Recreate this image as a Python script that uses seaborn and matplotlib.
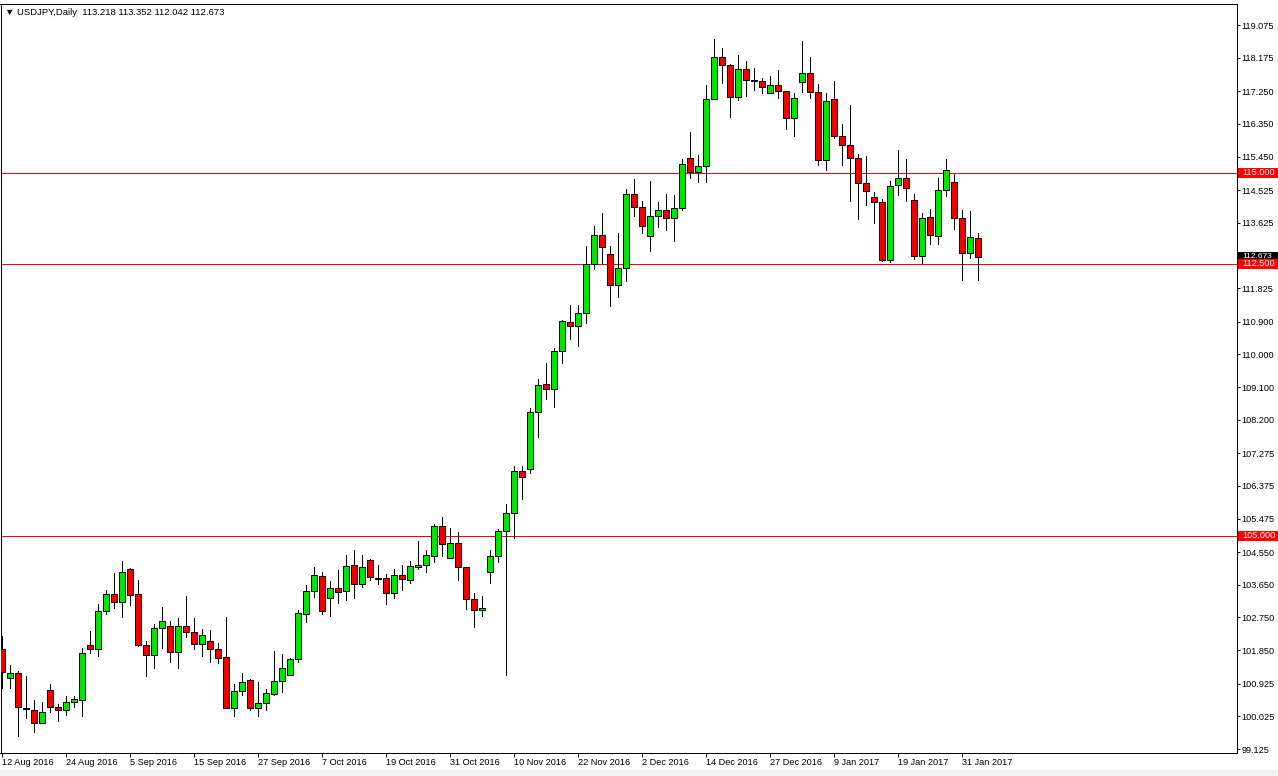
import matplotlib
matplotlib.use("Agg")
import matplotlib.pyplot as plt
from matplotlib.patches import Rectangle
import matplotlib.transforms as mtransforms
import seaborn as sns
import pandas as pd

# USDJPY daily candles, 12 Aug 2016 .. 2 Feb 2017
opens = [101.88, 101.08, 101.21, 100.25, 100.19, 99.83, 100.74, 100.27, 100.19, 100.41,
         100.47, 101.98, 101.87, 102.92, 103.39, 103.18, 104.08, 103.39, 101.98, 101.71,
         102.45, 102.51, 101.79, 102.51, 102.36, 102.03, 102.10, 101.88, 101.66, 100.26,
         100.71, 101.02, 100.25, 100.38, 100.63, 100.99, 101.16, 101.60, 102.84, 103.47,
         103.88, 103.28, 103.55, 103.47, 104.19, 103.66, 104.32, 103.83, 103.83, 103.42,
         103.91, 103.77, 104.13, 104.19, 104.44, 105.26, 104.38, 104.79, 104.13, 103.25,
         102.95, 103.99, 104.43, 105.12, 105.62, 106.78, 106.83, 108.40, 109.17, 109.04,
         110.08, 110.88, 110.77, 111.13, 112.48, 113.28, 112.76, 111.90, 112.37, 114.41,
         114.05, 113.25, 113.80, 113.97, 113.75, 114.02, 115.40, 115.02, 115.18, 117.03,
         118.19, 117.96, 117.08, 117.85, 117.55, 117.52, 117.19, 117.41, 117.25, 116.52,
         117.50, 117.74, 117.22, 115.35, 117.03, 116.01, 115.76, 115.40, 114.71, 114.33,
         114.19, 112.61, 114.66, 114.85, 114.25, 112.70, 113.78, 113.25, 114.52, 114.74,
         113.75, 112.78, 113.218]
highs = [102.24, 101.44, 101.27, 101.14, 100.48, 100.42, 100.92, 100.36, 100.59, 100.59,
         101.91, 102.38, 103.12, 103.51, 103.98, 104.31, 104.11, 103.78, 102.10, 102.57,
         103.04, 102.65, 102.73, 103.34, 102.73, 102.43, 102.40, 102.04, 102.76, 100.92,
         101.21, 101.05, 100.97, 100.78, 101.83, 101.74, 101.63, 102.95, 103.64, 104.14,
         104.00, 103.75, 104.06, 104.47, 104.61, 104.47, 104.35, 104.19, 103.94, 104.08,
         104.19, 104.30, 104.85, 104.60, 105.32, 105.52, 105.21, 105.10, 104.13, 103.42,
         103.33, 104.60, 105.18, 105.88, 106.92, 106.92, 108.51, 109.32, 109.76, 110.18,
         110.95, 111.35, 111.35, 112.98, 113.54, 113.90, 112.99, 113.34, 114.55, 114.82,
         114.22, 114.78, 114.19, 114.41, 114.38, 115.37, 116.12, 115.49, 117.41, 118.69,
         118.43, 117.99, 118.24, 118.07, 117.88, 117.61, 117.66, 117.83, 117.25, 117.19,
         118.63, 118.19, 117.44, 117.19, 117.52, 116.34, 116.86, 115.51, 115.47, 114.47,
         114.27, 114.77, 115.63, 115.38, 114.41, 113.89, 114.00, 114.85, 115.37, 114.96,
         113.97, 113.94, 113.352]
lows = [100.80, 100.81, 99.48, 99.99, 99.60, 99.83, 100.15, 99.90, 100.05, 100.27,
        100.03, 101.78, 101.69, 102.84, 103.02, 102.77, 103.09, 101.97, 101.14, 101.37,
        101.92, 101.53, 101.37, 102.21, 101.89, 101.70, 101.53, 101.50, 100.25, 100.04,
        100.62, 100.21, 100.04, 100.21, 100.61, 100.70, 101.16, 101.53, 102.63, 103.32,
        102.84, 102.78, 103.14, 103.24, 103.29, 103.58, 103.77, 103.66, 103.13, 103.28,
        103.50, 103.69, 104.08, 103.99, 104.27, 104.44, 104.38, 103.77, 102.97, 102.49,
        102.80, 103.69, 104.27, 101.16, 104.93, 106.01, 106.72, 107.73, 108.78, 108.54,
        109.77, 110.43, 110.24, 110.86, 112.34, 112.51, 111.34, 111.59, 112.03, 113.82,
        113.34, 112.86, 113.50, 113.42, 113.12, 113.97, 114.85, 114.74, 114.76, 117.03,
        117.47, 116.55, 117.00, 117.11, 117.28, 117.19, 117.19, 117.06, 116.22, 116.02,
        117.22, 117.06, 115.21, 115.07, 115.95, 115.21, 114.23, 113.74, 114.12, 113.61,
        112.58, 112.55, 114.38, 114.22, 112.64, 112.53, 113.03, 113.03, 114.35, 113.45,
        112.06, 112.65, 112.042]
closes = [101.25, 101.22, 100.28, 100.22, 99.83, 100.14, 100.27, 100.19, 100.41, 100.49,
          101.76, 101.87, 102.92, 103.39, 103.18, 103.99, 103.36, 101.98, 101.71, 102.45,
          102.65, 101.79, 102.51, 102.36, 102.03, 102.26, 101.87, 101.64, 100.26, 100.71,
          100.96, 100.26, 100.38, 100.66, 100.99, 101.35, 101.60, 102.86, 103.47, 103.91,
          102.92, 103.55, 103.44, 104.17, 103.66, 104.13, 103.86, 103.82, 103.42, 103.91,
          103.80, 104.16, 104.19, 104.46, 105.26, 104.77, 104.79, 104.13, 103.25, 102.95,
          103.00, 104.43, 105.12, 105.62, 106.78, 106.63, 108.40, 109.15, 109.04, 110.08,
          110.91, 110.77, 111.13, 112.48, 113.28, 112.95, 111.90, 112.37, 114.41, 114.05,
          113.53, 113.80, 113.97, 113.75, 114.02, 115.24, 115.02, 115.18, 117.03, 118.19,
          117.96, 117.08, 117.85, 117.55, 117.53, 117.36, 117.41, 117.25, 116.52, 117.06,
          117.74, 117.22, 115.35, 116.97, 116.01, 115.76, 115.40, 114.71, 114.49, 114.19,
          112.61, 114.63, 114.85, 114.58, 112.70, 113.75, 113.28, 114.52, 115.07, 113.75,
          112.78, 113.23, 112.673]

date_labels = ["12 Aug 2016", "24 Aug 2016", "5 Sep 2016", "15 Sep 2016", "27 Sep 2016",
               "7 Oct 2016", "19 Oct 2016", "31 Oct 2016", "10 Nov 2016", "22 Nov 2016",
               "2 Dec 2016", "14 Dec 2016", "27 Dec 2016", "9 Jan 2017", "19 Jan 2017",
               "31 Jan 2017"]
price_ticks = [119.075, 118.175, 117.250, 116.350, 115.450, 114.525, 113.625, 111.825,
               110.900, 110.000, 109.100, 108.200, 107.275, 106.375, 105.475, 104.550,
               103.650, 102.750, 101.850, 100.925, 100.025, 99.125]
levels = [115.000, 112.500, 105.000]

df = pd.DataFrame({"open": opens, "high": highs, "low": lows, "close": closes})
df["bar"] = range(len(df))
df["bull"] = df["close"] >= df["open"]

sns.set_theme(style="white")
plt.rcParams["font.family"] = ["Liberation Sans", "DejaVu Sans"]

W, H = 1278, 776
fig = plt.figure(figsize=(W / 100, H / 100), dpi=100)
fig.patch.set_facecolor("white")
ax = fig.add_axes([0.5 / W, (H - 753) / H, 1236 / W, 749 / H])
ax.set_facecolor("white")

px = 0.72  # one pixel in points

# wicks
ax.vlines(df["bar"], df["low"], df["high"], color="black", linewidth=px,
          antialiased=False, zorder=2)
# bodies
body_bottom = df[["open", "close"]].min(axis=1)
body_height = (df["close"] - df["open"]).abs().clip(lower=0.02)
colors = ["#00e600" if b else "#f00000" for b in df["bull"]]
ax.bar(df["bar"], body_height, bottom=body_bottom, width=0.68, color=colors,
       edgecolor="black", linewidth=px, zorder=3)

# horizontal levels
for lv in levels:
    ax.axhline(lv, color="#ff0000", linewidth=px, antialiased=False, zorder=1)

ax.set_xlim(-0.16, 154.3)
ax.set_ylim(99.015, 119.654)

for s in ax.spines.values():
    s.set_color("black")
    s.set_linewidth(px)

ax.yaxis.tick_right()
ax.set_yticks(price_ticks)
ax.set_yticklabels([f"{v:.3f}" for v in price_ticks])
ax.set_xticks(list(range(0, len(df), 8))[:len(date_labels)])
ax.set_xticklabels(date_labels, ha="left")
ax.tick_params(axis="y", direction="out", length=3 * px, width=px, pad=2 * px,
               labelsize=6.6, colors="black", right=True, left=False)
ax.tick_params(axis="x", direction="out", length=4 * px, width=px, pad=1 * px,
               labelsize=6.6, colors="black", bottom=True)
ax.grid(False)

# price labels on the right scale (current close sits behind the 112.500 level)
trans = mtransforms.blended_transform_factory(ax.transAxes, ax.transData)
box_h = 10 / 36.29
box_w = 40 / 1236
last_close = closes[-1]
ax.add_patch(Rectangle((1.0015, last_close - box_h / 2), box_w, box_h, transform=trans,
                       facecolor="black", edgecolor="none", clip_on=False, zorder=5))
ax.text(1.0045, last_close + 0.03, f"{last_close:.3f}", transform=trans, ha="left",
        va="center", fontsize=6.0, color="white", zorder=6, clip_on=False)
for lv in levels:
    ax.add_patch(Rectangle((1.0015, lv - box_h / 2), box_w, box_h, transform=trans,
                           facecolor="#ff0000", edgecolor="none", clip_on=False, zorder=7))
    ax.text(1.0045, lv, f"{lv:.3f}", transform=trans, ha="left", va="center",
            fontsize=6.6, color="white", zorder=8, clip_on=False)

# header text
ax.text(0.004, 0.989, "\u25bc USDJPY,Daily  113.218 113.352 112.042 112.673",
        transform=ax.transAxes, ha="left", va="center", fontsize=6.8, color="black")

# grey strip at the very bottom
fig.patches.append(Rectangle((0, 0), 1, 6 / H, transform=fig.transFigure,
                             facecolor="#f0f0f0", edgecolor="none", zorder=0))

fig.savefig("out.png", dpi=100)
